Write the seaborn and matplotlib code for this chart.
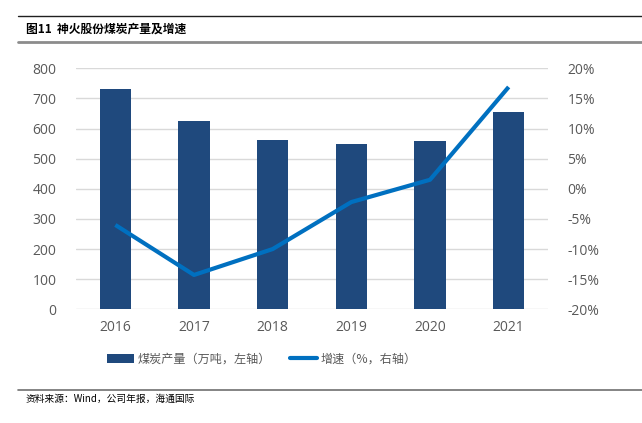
import matplotlib
matplotlib.use("Agg")
import matplotlib.pyplot as plt
import seaborn as sns
import numpy as np
import pandas as pd
from matplotlib.patches import Patch
from matplotlib.lines import Line2D
from matplotlib.ticker import FuncFormatter, MultipleLocator

years = ["2016", "2017", "2018", "2019", "2020", "2021"]
output = [730, 625, 563, 550, 559, 654]
growth = [-6.0, -14.3, -10.0, -2.2, 1.5, 16.9]

title = "图11  神火股份煤炭产量及增速"
legend_bar = "煤炭产量（万吨，左轴）"
legend_line = "增速（%，右轴）"
source = "资料来源：Wind，公司年报，海通国际"

sns.set_theme(style="white")
plt.rcParams["font.family"] = ["Open Sans", "Noto Sans CJK SC", "DejaVu Sans"]

bar_color = "#1f497d"
line_color = "#0070c0"
tick_color = "#595959"

fig = plt.figure(figsize=(6.42, 4.23), dpi=100)
ax = fig.add_axes([76/642, 1-309.3/423, 472/642, 241/423])

df = pd.DataFrame({"year": years, "output": output, "growth": growth})
sns.barplot(data=df, x="year", y="output", ax=ax, color=bar_color, width=0.4,
            saturation=1, edgecolor="none", zorder=3)
ax.set_ylim(0, 800)
ax.yaxis.set_major_locator(MultipleLocator(100))
ax.set_xlim(-0.5, len(years) - 0.5)
ax.grid(axis="y", color="#d9d9d9", lw=1, zorder=0)
ax.set_axisbelow(True)
for s in ax.spines.values():
    s.set_visible(False)
ax.set_xlabel("")
ax.set_ylabel("")
ax.tick_params(axis="both", length=0, colors=tick_color, labelsize=10)
ax.tick_params(axis="x", pad=8)
ax.tick_params(axis="y", pad=14)

ax2 = ax.twinx()
sns.lineplot(x=np.arange(len(years)), y=growth, ax=ax2, color=line_color, lw=3,
             zorder=4, solid_capstyle="butt")
ax2.set_ylim(-20, 20)
ax2.yaxis.set_major_locator(MultipleLocator(5))
ax2.yaxis.set_major_formatter(FuncFormatter(lambda v, p: f"{v:.0f}%"))
ax2.tick_params(axis="y", length=0, colors=tick_color, labelsize=10, pad=14)
for s in ax2.spines.values():
    s.set_visible(False)
ax2.grid(False)
ax2.set_xlim(-0.5, len(years) - 0.5)

# legend
handles = [Patch(facecolor=bar_color, edgecolor="none"),
           Line2D([0], [0], color=line_color, lw=3)]
leg = fig.legend(handles, [legend_bar, legend_line], loc="center",
                 bbox_to_anchor=(262/642, 1-359/423), ncol=2, frameon=False,
                 handlelength=2.2, handleheight=0.7, columnspacing=1.6,
                 handletextpad=0.3, prop={"family": ["Noto Sans CJK SC"], "size": 8.7})
for t in leg.get_texts():
    t.set_color(tick_color)

# header and footer
fig.add_artist(Line2D([18/642, 1], [1-16/423, 1-16/423], color="#202020", lw=1))
fig.add_artist(Line2D([18/642, 1], [1-41.7/423, 1-41.7/423], color="#8c8c8c", lw=2))
fig.text(26/642, 1-29/423, title, fontsize=8.5, fontweight="bold", va="center",
         ha="left", family=["Noto Sans CJK SC"], color="#000000")
fig.add_artist(Line2D([18/642, 1], [1-390/423, 1-390/423], color="#707070", lw=1.2))
fig.text(26/642, 1-399/423, source, fontsize=7, va="center", ha="left",
         family=["Noto Sans CJK SC", "DejaVu Sans"], color="#000000")

fig.savefig("out.png", dpi=100)
